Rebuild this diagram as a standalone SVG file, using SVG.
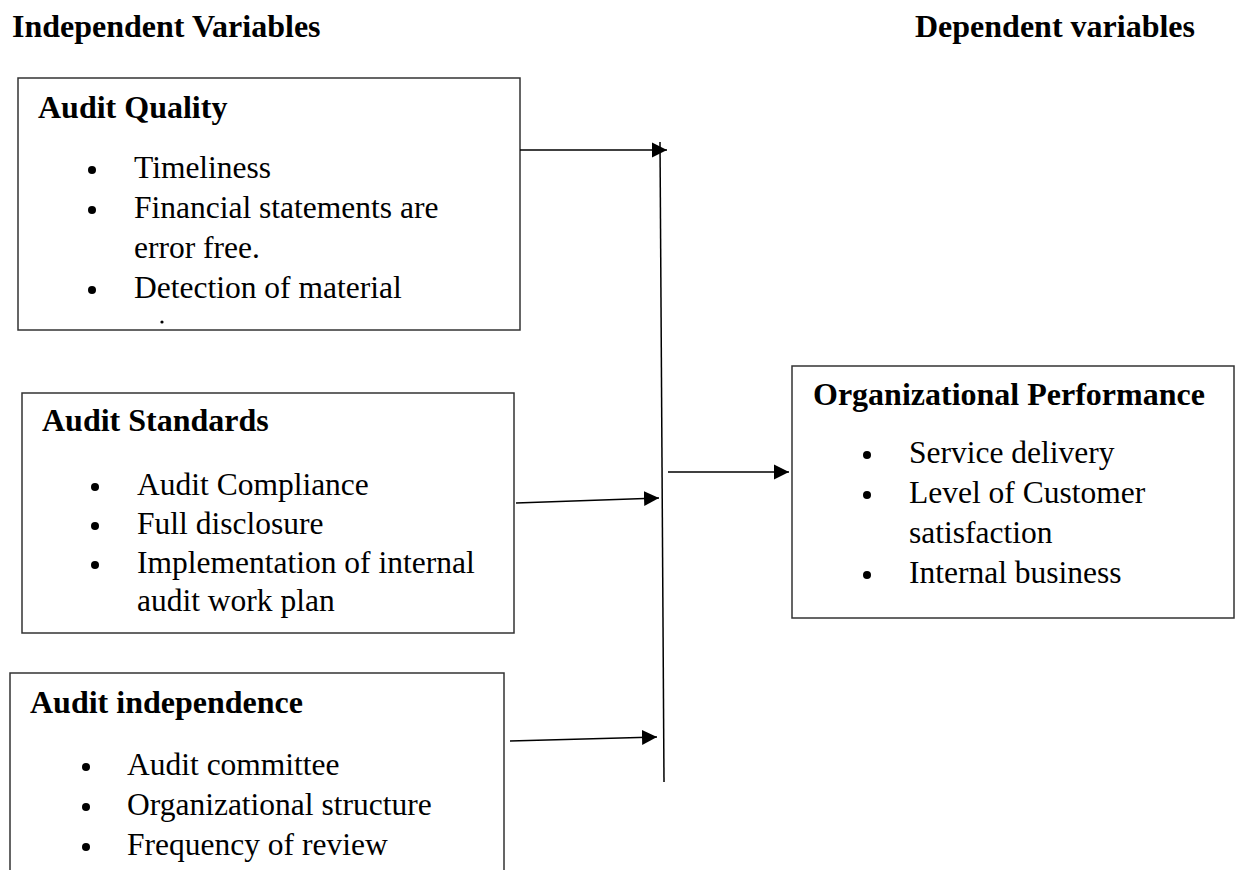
<svg xmlns="http://www.w3.org/2000/svg" width="1236" height="870" viewBox="0 0 1236 870">
<defs>
<style>
.hdr{font-family:"Liberation Serif","Times New Roman",serif;font-weight:bold;font-size:32px;fill:#000}
.ttl{font-family:"Liberation Serif","Times New Roman",serif;font-weight:bold;font-size:32px;fill:#000}
.txt{font-family:"Liberation Serif","Times New Roman",serif;font-size:31.5px;fill:#000}
.box{fill:#fff;stroke:#333;stroke-width:1.5}
.con{stroke:#000;stroke-width:1.5;fill:none}
.bul{fill:#000}
</style>
<marker id="ah" markerUnits="userSpaceOnUse" markerWidth="16" markerHeight="16" refX="15" refY="8" orient="auto">
<path d="M0,0.5 L15,8 L0,15.5 Z" fill="#000"/>
</marker>
</defs>
<rect width="1236" height="870" fill="#fff"/>
<g id="headers">
<text class="hdr" x="12" y="37">Independent Variables</text>
<text class="hdr" x="915" y="37">Dependent variables</text>
</g>
<g id="audit-quality">
<rect class="box" x="18" y="78" width="502" height="252"/>
<text class="ttl" x="38" y="118">Audit Quality</text>
<circle class="bul" cx="92" cy="170" r="4"/>
<text class="txt" x="134" y="178">Timeliness</text>
<circle class="bul" cx="92" cy="210" r="4"/>
<text class="txt" x="134" y="218">Financial statements are</text>
<text class="txt" x="134" y="258">error free.</text>
<circle class="bul" cx="92" cy="290" r="4"/>
<text class="txt" x="134" y="298">Detection of material</text>
<circle class="bul" cx="162" cy="322" r="1.6"/>
</g>
<g id="audit-standards">
<rect class="box" x="22" y="393" width="492" height="240"/>
<text class="ttl" x="42" y="431">Audit Standards</text>
<circle class="bul" cx="95" cy="487" r="4"/>
<text class="txt" x="137" y="495">Audit Compliance</text>
<circle class="bul" cx="95" cy="526" r="4"/>
<text class="txt" x="137" y="534">Full disclosure</text>
<circle class="bul" cx="95" cy="565" r="4"/>
<text class="txt" x="137" y="573">Implementation of internal</text>
<text class="txt" x="137" y="611">audit work plan</text>
</g>
<g id="audit-independence">
<rect class="box" x="10" y="673" width="494" height="230"/>
<text class="ttl" x="30" y="713">Audit independence</text>
<circle class="bul" cx="86" cy="767" r="4"/>
<text class="txt" x="127" y="775">Audit committee</text>
<circle class="bul" cx="86" cy="807" r="4"/>
<text class="txt" x="127" y="815">Organizational structure</text>
<circle class="bul" cx="86" cy="847" r="4"/>
<text class="txt" x="127" y="855">Frequency of review</text>
</g>
<g id="organizational-performance">
<rect class="box" x="792" y="366" width="442" height="252"/>
<text class="ttl" x="813" y="405">Organizational Performance</text>
<circle class="bul" cx="867" cy="455" r="4"/>
<text class="txt" x="909" y="463">Service delivery</text>
<circle class="bul" cx="867" cy="495" r="4"/>
<text class="txt" x="909" y="503">Level of Customer</text>
<text class="txt" x="909" y="543">satisfaction</text>
<circle class="bul" cx="867" cy="575" r="4"/>
<text class="txt" x="909" y="583">Internal business</text>
</g>
<g id="connectors">
<line class="con" x1="660" y1="142" x2="664" y2="782"/>
<line class="con" x1="520" y1="150" x2="667" y2="150" marker-end="url(#ah)"/>
<line class="con" x1="516" y1="503" x2="659" y2="498" marker-end="url(#ah)"/>
<line class="con" x1="510" y1="741" x2="657" y2="737" marker-end="url(#ah)"/>
<line class="con" x1="668" y1="472" x2="789" y2="472" marker-end="url(#ah)"/>
</g>
</svg>
